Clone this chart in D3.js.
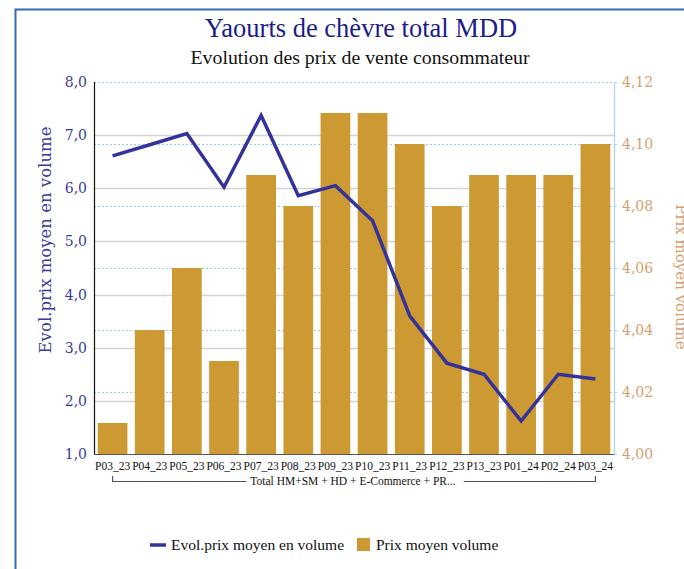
<!DOCTYPE html>
<html>
<head>
<meta charset="utf-8">
<script src="https://cdn.jsdelivr.net/npm/d3@7"></script>
<style>
  body { margin: 0; background: #fff; }
</style>
</head>
<body>
<svg id="chart" width="684" height="569"></svg>
<script>
// Data
const periods = ["P03_23", "P04_23", "P05_23", "P06_23", "P07_23", "P08_23", "P09_23",
  "P10_23", "P11_23", "P12_23", "P13_23", "P01_24", "P02_24", "P03_24"];
const evolPrix = [6.61, 6.82, 7.03, 6.02, 7.37, 5.86, 6.05, 5.39, 3.60, 2.71, 2.50, 1.62, 2.50, 2.41];
const prixMoyen = [4.01, 4.04, 4.06, 4.03, 4.09, 4.08, 4.11, 4.11, 4.10, 4.08, 4.09, 4.09, 4.09, 4.10];
const leftTicks = [1, 2, 3, 4, 5, 6, 7, 8];
const rightTicks = [4.00, 4.02, 4.04, 4.06, 4.08, 4.10, 4.12];

const SERIF = "Liberation Serif";
const WIDE = "DejaVu Serif";

const svg = d3.select("#chart");
const margin = { left: 94, right: 614, top: 82, bottom: 454 };

// frame
svg.append("path")
  .attr("d", "M15.5,569 L15.5,9.5 L684,9.5")
  .attr("fill", "none")
  .attr("stroke", "#2f6db3")
  .attr("stroke-width", 2);

// titles
svg.append("text").attr("x", 361).attr("y", 37).attr("text-anchor", "middle")
  .style("font-family", SERIF).style("font-size", "26.5px").attr("fill", "#1c1c8a")
  .text("Yaourts de chèvre total MDD");
svg.append("text").attr("x", 360).attr("y", 64).attr("text-anchor", "middle")
  .style("font-family", SERIF).style("font-size", "19.8px").attr("fill", "#111")
  .text("Evolution des prix de vente consommateur");

// scales
const x = d3.scaleBand().domain(periods).range([margin.left, margin.right]).paddingInner(0.2).paddingOuter(0.1);
const yL = d3.scaleLinear().domain([1, 8]).range([margin.bottom, margin.top]);
const yR = d3.scaleLinear().domain([4.00, 4.12]).range([margin.bottom, margin.top]);

// gridlines (left axis: solid gray)
svg.append("g").selectAll("line").data(leftTicks.filter(d => d > 1 && d < 8)).enter()
  .append("line")
  .attr("x1", margin.left).attr("x2", margin.right)
  .attr("y1", d => Math.round(yL(d)) + 0.5).attr("y2", d => Math.round(yL(d)) + 0.5)
  .attr("stroke", "#d3d3d3").attr("stroke-width", 1.5);

// gridlines (right axis: dotted light blue)
svg.append("g").selectAll("line").data(rightTicks.filter(d => d > 4)).enter()
  .append("line")
  .attr("x1", margin.left).attr("x2", margin.right)
  .attr("y1", d => Math.round(yR(d)) + 0.5).attr("y2", d => Math.round(yR(d)) + 0.5)
  .attr("stroke", "#9cc9f5").attr("stroke-width", 1).attr("stroke-dasharray", "2,2");

// bars
svg.append("g").selectAll("rect").data(periods).enter()
  .append("rect")
  .attr("x", d => x(d))
  .attr("width", x.bandwidth())
  .attr("y", (d, i) => yR(prixMoyen[i]))
  .attr("height", (d, i) => margin.bottom - yR(prixMoyen[i]))
  .attr("fill", "#cc9933");

// line
const line = d3.line()
  .x((d, i) => x(periods[i]) + x.bandwidth() / 2)
  .y(d => yL(d));
svg.append("path")
  .attr("d", line(evolPrix))
  .attr("fill", "none")
  .attr("stroke", "#333399")
  .attr("stroke-width", 3.5);

// axes lines
svg.append("line").attr("x1", margin.left + 0.5).attr("x2", margin.left + 0.5)
  .attr("y1", margin.top).attr("y2", margin.bottom).attr("stroke", "#111").attr("stroke-width", 1.2);
svg.append("line").attr("x1", margin.right + 0.5).attr("x2", margin.right + 0.5)
  .attr("y1", margin.top).attr("y2", margin.bottom).attr("stroke", "#a9d3fb").attr("stroke-width", 1.2);
svg.append("line").attr("x1", margin.left).attr("x2", margin.right)
  .attr("y1", margin.bottom + 0.5).attr("y2", margin.bottom + 0.5).attr("stroke", "#555").attr("stroke-width", 1.2);

// left axis
const fmtL = d => d3.format(".1f")(d).replace(".", ",");
const leftAxis = svg.append("g")
  .attr("transform", `translate(${margin.left},0)`)
  .call(d3.axisLeft(yL).tickValues(leftTicks).tickFormat(fmtL).tickSize(0).tickPadding(7));
leftAxis.select(".domain").remove();
leftAxis.attr("font-family", null);
leftAxis.selectAll("text").attr("fill", "#3a3a9a")
  .style("font-family", WIDE).style("font-size", "14px");

// right axis
const fmtR = d => d3.format(".2f")(d).replace(".", ",");
const rightAxis = svg.append("g")
  .attr("transform", `translate(${margin.right},0)`)
  .call(d3.axisRight(yR).tickValues(rightTicks).tickFormat(fmtR).tickSize(3).tickPadding(5));
rightAxis.select(".domain").remove();
rightAxis.attr("font-family", null);
rightAxis.selectAll("line").attr("stroke", "#a9d3fb");
rightAxis.selectAll("text").attr("fill", "#d4a070")
  .style("font-family", WIDE).style("font-size", "14px");

// axis titles
svg.append("text")
  .attr("transform", "translate(51,240) rotate(-90)")
  .attr("text-anchor", "middle").attr("fill", "#3a3a9a")
  .style("font-family", WIDE).style("font-size", "16.5px")
  .text("Evol.prix moyen en volume");
svg.append("text")
  .attr("transform", "translate(676,277) rotate(90)")
  .attr("text-anchor", "middle").attr("fill", "#d4a070")
  .style("font-family", WIDE).style("font-size", "15px")
  .text("Prix moyen volume");

// category axis
const xAxis = svg.append("g")
  .attr("transform", `translate(0,${margin.bottom})`)
  .call(d3.axisBottom(x).tickSize(0).tickPadding(8));
xAxis.select(".domain").remove();
xAxis.attr("font-family", null);
xAxis.selectAll("text").attr("fill", "#111")
  .style("font-family", SERIF).style("font-size", "11.5px");

// group bracket
const bx0 = x(periods[0]) + x.bandwidth() / 2;
const bx1 = x(periods[periods.length - 1]) + x.bandwidth() / 2;
const groupLabel = "Total HM+SM + HD + E-Commerce + PR...";
const gl = svg.append("text").attr("x", (bx0 + bx1) / 2 - 1).attr("y", 485)
  .attr("text-anchor", "middle").attr("fill", "#111")
  .style("font-family", SERIF).style("font-size", "11.5px").text(groupLabel);
const bb = gl.node().getBBox();
svg.append("path")
  .attr("d", `M${bx0},476 V481.5 H${bb.x - 4} M${bb.x + bb.width + 8},481.5 H${bx1} V476`)
  .attr("fill", "none").attr("stroke", "#555").attr("stroke-width", 1.2);

// legend
const lg = svg.append("g").attr("transform", "translate(150,545)");
lg.append("line").attr("x1", 0).attr("x2", 16).attr("y1", 0).attr("y2", 0)
  .attr("stroke", "#333399").attr("stroke-width", 3.5);
lg.append("text").attr("x", 21).attr("y", 5).attr("fill", "#111")
  .style("font-family", SERIF).style("font-size", "15.5px")
  .text("Evol.prix moyen en volume");
lg.append("rect").attr("x", 207).attr("y", -7).attr("width", 13).attr("height", 13).attr("fill", "#cc9933");
lg.append("text").attr("x", 226).attr("y", 5).attr("fill", "#111")
  .style("font-family", SERIF).style("font-size", "15.5px")
  .text("Prix moyen volume");
</script>
</body>
</html>
